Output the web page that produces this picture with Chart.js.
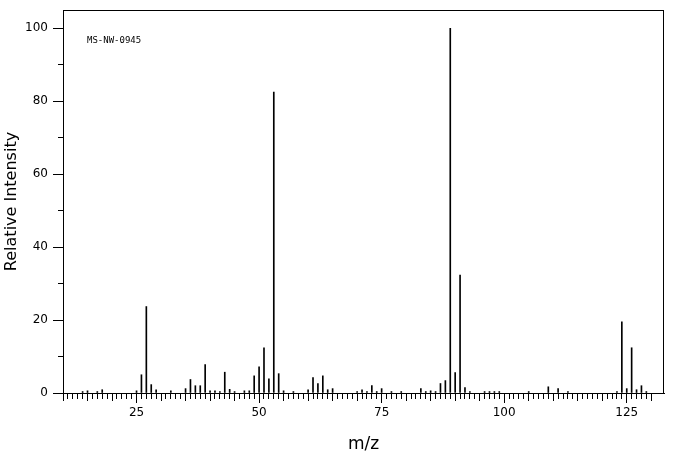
<!DOCTYPE html>
<html>
<head>
<meta charset="utf-8">
<script src="https://cdn.jsdelivr.net/npm/chart.js@4/dist/chart.umd.min.js"></script>
<style>
  html, body { margin: 0; padding: 0; background: #fff; }
  #wrap { width: 676px; height: 455px; }
</style>
</head>
<body>
<div id="wrap"><canvas id="espectro"></canvas></div>
<script>
// picos do espectro (m/z e intensidade relativa)
const mz = [14, 15, 17, 18, 25, 26, 27, 28, 29, 32, 35, 36, 37, 38, 39, 40, 41, 42, 43, 44,
  45, 47, 48, 49, 50, 51, 52, 53, 54, 55, 57, 60, 61, 62, 63, 64, 65, 70, 71, 72,
  73, 74, 75, 77, 79, 83, 84, 85, 86, 87, 88, 89, 90, 91, 92, 93, 96, 97, 98, 99,
  105, 109, 111, 113, 123, 124, 125, 126, 127, 128, 129];
const intensidade = [0.4, 0.6, 0.4, 0.9, 0.6, 5.0, 23.7, 2.3, 0.9, 0.6, 1.2, 3.7, 2.0, 2.0, 7.8, 0.6, 0.6, 0.4, 5.7, 1.0,
  0.4, 0.6, 0.6, 4.7, 7.2, 12.4, 3.9, 82.5, 5.3, 0.6, 0.4, 0.9, 4.2, 2.6, 4.7, 0.9, 1.2, 0.4, 0.9, 0.4,
  2.0, 0.4, 1.2, 0.4, 0.4, 1.2, 0.4, 0.6, 0.4, 2.6, 3.4, 100, 5.6, 32.3, 1.5, 0.4, 0.4, 0.4, 0.4, 0.4,
  0.4, 1.7, 1.2, 0.4, 0.4, 19.5, 1.2, 12.4, 0.9, 2.0, 0.4];

const xTicks = [];
for (let v = 10; v <= 130; v++) xTicks.push(v);
const xLabels = [25, 50, 75, 100, 125];
const yTicks = [0, 10, 20, 30, 40, 50, 60, 70, 80, 90, 100];
const yLabels = [0, 20, 40, 60, 80, 100];
const codigo = "MS-NW-0945";

const fonte = "'DejaVu Sans', sans-serif";

// moldura e código da amostra
const molduraPlugin = {
  id: "moldura",
  afterDraw(chart) {
    const { ctx, chartArea } = chart;
    ctx.save();
    ctx.strokeStyle = "#000";
    ctx.lineWidth = 1;
    ctx.strokeRect(Math.round(chartArea.left) + 0.5, Math.round(chartArea.top) + 0.5,
      Math.round(chartArea.width) - 1, Math.round(chartArea.height));
    ctx.fillStyle = "#000";
    ctx.font = "9px 'DejaVu Sans Mono', monospace";
    ctx.textBaseline = "middle";
    ctx.fillText(codigo, chartArea.left + 24, chartArea.top + 31);
    ctx.restore();
  },
};

new Chart(document.getElementById("espectro"), {
  type: "bar",
  data: {
    datasets: [
      {
        data: mz.map((m, i) => ({ x: m, y: intensidade[i] })),
        backgroundColor: "#000",
        borderWidth: 0,
        barThickness: 1,
        grouped: false,
      },
    ],
  },
  options: {
    responsive: true,
    maintainAspectRatio: false,
    animation: false,
    layout: { padding: { left: 0, right: 12, top: 10, bottom: 0 } },
    plugins: {
      legend: { display: false },
      tooltip: { enabled: false },
    },
    scales: {
      x: {
        type: "linear",
        min: 10,
        max: 132.6,
        offset: false,
        afterBuildTicks: (scale) => {
          scale.ticks = xTicks.map((v) => ({ value: v }));
        },
        afterFit: (scale) => {
          scale.height = 62;
          scale.paddingRight = 0;
        },
        ticks: {
          autoSkip: false,
          maxRotation: 0,
          padding: 3,
          color: "#000",
          font: { family: fonte, size: 12 },
          callback: (v) => (xLabels.includes(v) ? String(v) : ""),
        },
        grid: {
          drawOnChartArea: false,
          offset: false,
          tickLength: 10,
          tickColor: "#000",
          tickBorderDash: (ctx) => {
            const v = ctx.tick ? ctx.tick.value : 0;
            if (v % 25 === 0) return [];
            if (v % 5 === 0) return [7, 20];
            return [5, 20];
          },
        },
        border: { color: "#000" },
        title: {
          display: true,
          text: "m/z",
          color: "#000",
          font: { family: fonte, size: 17 },
          padding: { top: 6, bottom: 0 },
        },
      },
      y: {
        min: 0,
        max: 105,
        afterBuildTicks: (scale) => {
          scale.ticks = yTicks.map((v) => ({ value: v }));
        },
        afterFit: (scale) => {
          scale.width = 63;
          scale.paddingTop = 0;
          scale.paddingBottom = 0;
        },
        ticks: {
          autoSkip: false,
          padding: 5,
          color: "#000",
          font: { family: fonte, size: 12 },
          callback: (v) => (yLabels.includes(v) ? String(v) : ""),
        },
        grid: {
          drawOnChartArea: false,
          tickLength: 10,
          tickColor: "#000",
          tickBorderDash: (ctx) => {
            const v = ctx.tick ? ctx.tick.value : 0;
            if (v % 20 === 0) return [];
            return [0, 5, 5, 0];
          },
        },
        border: { color: "#000" },
        title: {
          display: true,
          text: "Relative Intensity",
          color: "#000",
          font: { family: fonte, size: 16 },
          padding: { top: 2, bottom: 0 },
        },
      },
    },
  },
  plugins: [molduraPlugin],
});
</script>
</body>
</html>
